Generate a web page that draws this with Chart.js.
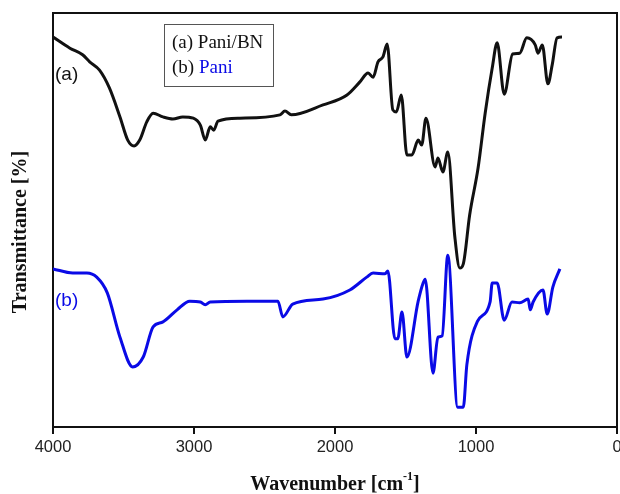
<!DOCTYPE html>
<html>
<head>
<meta charset="utf-8">
<script src="https://cdn.jsdelivr.net/npm/chart.js@4.4.1/dist/chart.umd.min.js"></script>
<style>
    body { margin: 0; background: #fff; }
    #box { position: relative; width: 620px; height: 494px; }
</style>
</head>
<body>
<div id="box"><canvas id="ftir"></canvas></div>
<script>
// Espectro (a) Pani/BN
const wavenumbersA = [4000, 3880, 3790, 3740, 3670, 3600, 3525, 3470, 3425, 3385, 3335, 3290, 3220, 3150, 3080, 3005, 2955, 2920, 2885, 2860, 2830, 2675, 2390, 2355, 2310, 2085, 1915, 1825, 1765, 1730, 1695, 1660, 1630, 1590, 1565, 1530, 1490, 1455, 1410, 1385, 1355, 1290, 1270, 1235, 1200, 1150, 1115, 1090, 1045, 985, 935, 885, 850, 800, 740, 690, 640, 580, 560, 530, 490, 460, 425, 390];
const transmittanceA = [94.2, 91.5, 89.9, 88.2, 86.2, 81.9, 74.9, 69.3, 67.9, 69.3, 73.7, 75.8, 74.9, 74.4, 74.9, 74.6, 72.9, 69.3, 72.5, 71.7, 73.9, 74.6, 75.4, 76.3, 75.4, 77.8, 80.2, 83.3, 85.5, 84.5, 88.2, 89.4, 92.5, 76.6, 76.1, 80.2, 65.7, 65.7, 69.3, 68.1, 74.6, 62.8, 65.0, 61.6, 66.4, 45.9, 38.4, 39.4, 51.2, 62.6, 75.8, 86.7, 92.8, 80.4, 90.1, 90.3, 94.0, 92.3, 90.3, 92.3, 82.9, 87.4, 94.0, 94.2];

// Espectro (b) Pani
const wavenumbersB = [4000, 3860, 3760, 3690, 3615, 3525, 3435, 3360, 3290, 3220, 3120, 3030, 2955, 2920, 2885, 2625, 2405, 2370, 2300, 2085, 1895, 1775, 1730, 1645, 1625, 1575, 1555, 1525, 1490, 1410, 1375, 1360, 1305, 1270, 1240, 1200, 1130, 1090, 1065, 990, 900, 885, 850, 800, 745, 690, 630, 615, 595, 525, 495, 455, 405];
const transmittanceB = [38.2, 37.2, 37.2, 36.2, 32.4, 21.7, 14.5, 16.9, 24.2, 25.4, 28.3, 30.4, 30.2, 29.5, 30.2, 30.4, 30.4, 26.6, 29.7, 30.9, 33.1, 36.2, 37.2, 37.0, 37.7, 21.3, 21.3, 27.8, 16.9, 30.4, 34.8, 35.7, 13.0, 21.7, 22.0, 41.5, 4.8, 4.8, 15.0, 25.5, 30.2, 34.8, 34.8, 25.8, 30.2, 30.0, 30.9, 28.3, 30.2, 33.1, 27.3, 33.8, 38.2];

const xTicks = [4000, 3000, 2000, 1000, 0];

const blue = "#0a0ae6";

function toPoints(xs, ys) {
    return xs.map((x, i) => ({ x: x, y: ys[i] }));
}

// textos, legenda e moldura
const annotations = {
    id: "annotations",
    afterDraw(chart) {
        const c = chart.ctx;
        const a = chart.chartArea;
        c.save();

        // moldura superior e direita
        c.strokeStyle = "#111";
        c.lineWidth = 2;
        c.beginPath();
        c.moveTo(a.left, a.top);
        c.lineTo(a.right, a.top);
        c.lineTo(a.right, a.bottom);
        c.stroke();

        // legenda
        c.strokeStyle = "#555";
        c.lineWidth = 1;
        c.strokeRect(164.5, 24.5, 109, 62);
        c.font = "19px 'Liberation Serif'";
        c.textBaseline = "middle";
        c.textAlign = "left";
        c.fillStyle = "#111";
        c.fillText("(a) Pani/BN", 172, 43);
        c.fillText("(b) ", 172, 68);
        const w = c.measureText("(b) ").width;
        c.fillStyle = blue;
        c.fillText("Pani", 172 + w, 68);

        // rótulos das curvas
        c.font = "19px 'Liberation Sans'";
        c.fillStyle = "#111";
        c.fillText("(a)", 55, 75);
        c.fillStyle = blue;
        c.fillText("(b)", 55, 301);

        // título do eixo y
        c.fillStyle = "#111";
        c.font = "bold 20px 'Liberation Serif'";
        c.translate(26, 232);
        c.rotate(-Math.PI / 2);
        c.textAlign = "center";
        c.textBaseline = "alphabetic";
        c.fillText("Transmittance [%]", 0, 0);
        c.setTransform(1, 0, 0, 1, 0, 0);

        // título do eixo x com expoente
        const t1 = "Wavenumber [cm";
        const t3 = "]";
        c.font = "bold 20px 'Liberation Serif'";
        const w1 = c.measureText(t1).width;
        const w3 = c.measureText(t3).width;
        c.font = "bold 12px 'Liberation Serif'";
        const w2 = c.measureText("-1").width;
        const x0 = (a.left + a.right) / 2 - (w1 + w2 + w3) / 2;
        c.textAlign = "left";
        c.font = "bold 20px 'Liberation Serif'";
        c.fillText(t1, x0, 490);
        c.fillText(t3, x0 + w1 + w2, 490);
        c.font = "bold 12px 'Liberation Serif'";
        c.fillText("-1", x0 + w1, 480);
        c.restore();
    },
};

document.addEventListener("DOMContentLoaded", () => {
    const ctx = document.getElementById("ftir").getContext("2d");

    const myChart = new Chart(ctx, {
        type: "line",
        data: {
            datasets: [
                {
                    label: "(a) Pani/BN",
                    data: toPoints(wavenumbersA, transmittanceA),
                    borderColor: "#111",
                    borderWidth: 3,
                    pointRadius: 0,
                    cubicInterpolationMode: "monotone",
                },
                {
                    label: "(b) Pani",
                    data: toPoints(wavenumbersB, transmittanceB),
                    borderColor: blue,
                    borderWidth: 3,
                    pointRadius: 0,
                    cubicInterpolationMode: "monotone",
                },
            ],
        },
        options: {
            responsive: true,
            maintainAspectRatio: false,
            animation: false,
            layout: {
                padding: { top: 13, right: 3, left: 0, bottom: 0 },
            },
            plugins: {
                legend: { display: false },
                tooltip: { enabled: false },
            },
            scales: {
                x: {
                    type: "linear",
                    reverse: true,
                    min: 0,
                    max: 4000,
                    afterBuildTicks: (scale) => {
                        scale.ticks = xTicks.map((v) => ({ value: v }));
                    },
                    afterFit: (scale) => {
                        scale.height = 67;
                        scale.paddingLeft = 0;
                        scale.paddingRight = 0;
                    },
                    ticks: {
                        callback: (v) => String(v),
                        color: "#222",
                        padding: 4,
                        maxRotation: 0,
                        font: { family: "'Liberation Sans'", size: 16.5 },
                    },
                    grid: {
                        drawOnChartArea: false,
                        color: "#111",
                        lineWidth: 2,
                        tickLength: 7,
                    },
                    border: { color: "#111", width: 2 },
                },
                y: {
                    min: 0,
                    max: 100,
                    afterFit: (scale) => {
                        scale.width = 53;
                    },
                    ticks: { display: false },
                    grid: { display: false },
                    border: { color: "#111", width: 2 },
                },
            },
        },
        plugins: [annotations],
    });
});
</script>
</body>
</html>
